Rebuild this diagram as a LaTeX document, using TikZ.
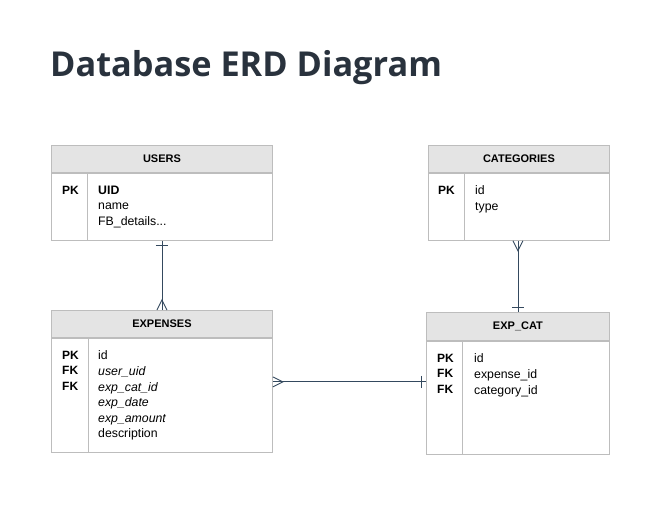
\documentclass[tikz,border=0pt]{standalone}
\usepackage{fontspec}
\setmainfont{Liberation Sans}
\newfontfamily\titlefont{Open Sans}
\usepackage{tikz}
\usetikzlibrary{positioning, calc}
\definecolor{linkcol}{HTML}{34495E}
\definecolor{titlecol}{HTML}{29323D}
\definecolor{bordercol}{HTML}{BDBDBD}
\definecolor{headcol}{HTML}{E4E4E4}

\begin{document}
\begin{tikzpicture}[x = 1pt, y = -1pt,
  head/.style = {draw = bordercol, line width = .9pt, fill = headcol, inner sep = 0pt, anchor = north west, font = \bfseries\fontsize{11}{13}\selectfont},
  body/.style = {draw = bordercol, line width = .9pt, inner sep = 0pt, anchor = north west},
  split/.style = {draw = bordercol, line width = .9pt},
  keys/.style = {anchor = north west, inner sep = 0pt, align = left, font = \bfseries\fontsize{12}{15.6}\selectfont},
  fields/.style = {anchor = north west, inner sep = 0pt, align = left, font = \fontsize{12.3}{15.6}\selectfont},
  link/.style = {draw = linkcol, line width = .9pt}]
  \fill[white] (0, 0) rectangle (671, 511);
  \useasboundingbox (0, 0) rectangle (671, 511);

  \node[anchor = base west, inner sep = 0pt, text = titlecol, font = \titlefont\bfseries\fontsize{34.3}{40}\selectfont] (title) at (50, 76) {Database ERD Diagram};

  \node[head, minimum width = 221pt, minimum height = 27pt] (users-h) at (51, 145) {USERS};
  \node[body, minimum width = 221pt, minimum height = 67pt] (users-b) at (users-h.south west) {};
  \draw[split] ($(users-b.north west) + (36, 0)$) -- ($(users-b.south west) + (36, 0)$);
  \node[keys] (users-k) at (62, 185.7) {PK};
  \node[fields] (users-f) at (98, 185.7) {\textbf{UID}\\name\\FB\_details...};

  \node[head, minimum width = 181pt, minimum height = 27pt] (cat-h) at (428, 145) {CATEGORIES};
  \node[body, minimum width = 181pt, minimum height = 67pt] (cat-b) at (cat-h.south west) {};
  \draw[split] ($(cat-b.north west) + (36, 0)$) -- ($(cat-b.south west) + (36, 0)$);
  \node[keys] (cat-k) at (438, 185.7) {PK};
  \node[fields] (cat-f) at (475, 185.7) {id\\type};

  \node[head, minimum width = 221pt, minimum height = 27pt] (exp-h) at (51, 310) {EXPENSES};
  \node[body, minimum width = 221pt, minimum height = 114pt] (exp-b) at (exp-h.south west) {};
  \draw[split] ($(exp-b.north west) + (37, 0)$) -- ($(exp-b.south west) + (37, 0)$);
  \node[keys] (exp-k) at (62, 350.7) {PK\\FK\\FK};
  \node[fields] (exp-f) at (98, 350.7) {id\\\textit{user\_uid}\\\textit{exp\_cat\_id}\\\textit{exp\_date}\\\textit{exp\_amount}\\description};

  \node[head, minimum width = 183pt, minimum height = 28pt] (expcat-h) at (426, 312) {EXP\_CAT};
  \node[body, minimum width = 183pt, minimum height = 113pt] (expcat-b) at (expcat-h.south west) {};
  \draw[split] ($(expcat-b.north west) + (36, 0)$) -- ($(expcat-b.south west) + (36, 0)$);
  \node[keys] (expcat-k) at (437, 353.7) {PK\\FK\\FK};
  \node[fields] (expcat-f) at (474, 353.7) {id\\expense\_id\\category\_id};

  \draw[link] (users-b.south) -- (exp-h.north);
  \draw[link] ($(users-b.south) + (-6, 5)$) -- ($(users-b.south) + (6, 5)$);
  \draw[link] ($(exp-h.north) + (-5, 0)$) -- ($(exp-h.north) + (0, -10)$) -- ($(exp-h.north) + (5, 0)$);

  \coordinate (cat-link) at ($(cat-b.south) + (-1, 0)$);
  \coordinate (ec-top) at (cat-link |- expcat-h.north);
  \draw[link] (cat-link) -- (ec-top);
  \draw[link] ($(cat-link) + (-5, 0)$) -- ($(cat-link) + (0, 10)$) -- ($(cat-link) + (5, 0)$);
  \draw[link] ($(ec-top) + (-6, -5)$) -- ($(ec-top) + (6, -5)$);

  \coordinate (exp-link) at ($(exp-b.north east) + (0, 44)$);
  \coordinate (ec-link) at (exp-link -| expcat-b.west);
  \draw[link] (exp-link) -- (ec-link);
  \draw[link] ($(exp-link) + (0, -5)$) -- ($(exp-link) + (10, 0)$) -- ($(exp-link) + (0, 5)$);
  \draw[link] ($(ec-link) + (-5, -6)$) -- ($(ec-link) + (-5, 6)$);
\end{tikzpicture}
\end{document}
